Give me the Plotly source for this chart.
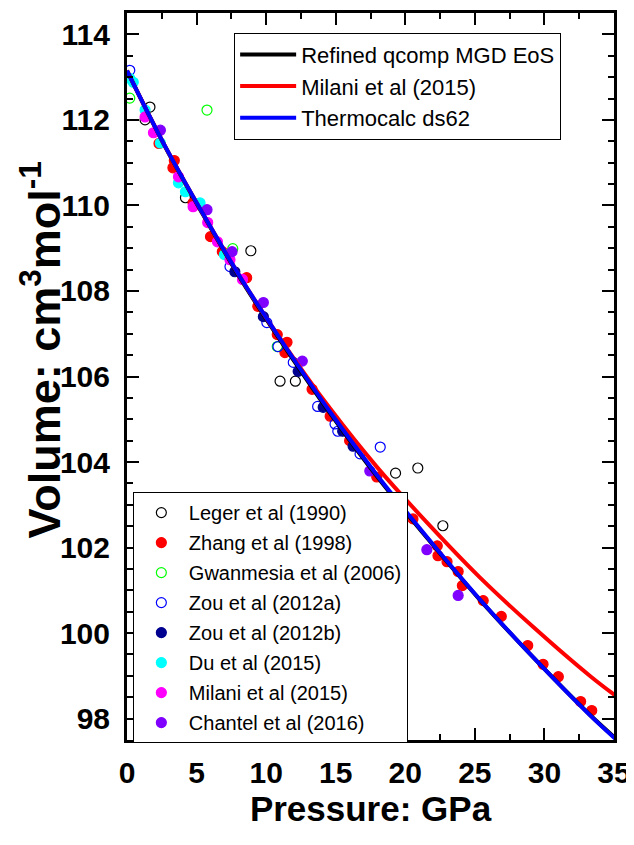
import plotly.graph_objects as go

# equation of state curves, pressure (GPa) vs volume (cm3/mol)
curve_p = [0, 2.6, 5.4, 8.3, 11.4, 14.6, 18.0, 21.6, 25.3, 29.2, 33.3, 35.5]
refined_v = [113.15, 111.46, 109.82, 108.21, 106.66, 105.14, 103.65, 102.21, 100.80, 99.43, 98.08, 97.43]
milani_v = [113.15, 111.47, 109.84, 108.24, 106.70, 105.25, 103.87, 102.57, 101.32, 100.14, 98.99, 98.44]
thermocalc_v = [113.15, 111.47, 109.84, 108.24, 106.69, 105.17, 103.68, 102.23, 100.81, 99.43, 98.07, 97.41]

# experimental data sets
leger_p = [1.3, 1.65, 4.2, 8.9, 11.0, 12.1, 19.3, 20.9, 22.7]
leger_v = [112.0, 112.3, 110.18, 108.94, 105.89, 105.89, 103.74, 103.86, 102.51]

zhang_p = [2.3, 3.4, 3.3, 4.75, 6.0, 6.85, 8.6, 9.4, 10.8, 11.5, 11.35, 13.3, 14.6, 16.0,
           17.95, 20.55, 22.3, 22.35, 23.0, 23.8, 24.1, 25.6, 26.9, 28.8, 29.9, 31.0, 32.6, 33.4]
zhang_v = [111.45, 111.05, 110.88, 110.06, 109.27, 108.92, 108.31, 107.64, 106.98, 106.8, 106.56, 105.7,
           105.07, 104.5, 103.65, 102.67, 102.04, 101.81, 101.67, 101.44, 101.11, 100.76, 100.39, 99.71,
           99.27, 98.98, 98.40, 98.19]

gwan_p = [0.2, 5.75, 7.6, 10.8]
gwan_v = [112.51, 112.23, 108.99, 106.7]

zou_a_p = [0.2, 7.4, 10.05, 10.85, 11.95, 13.7, 14.95, 15.15, 16.75, 18.2]
zou_a_v = [113.16, 108.57, 107.26, 106.7, 106.33, 105.3, 104.89, 104.72, 104.19, 104.35]

zou_b_p = [7.75, 9.8, 12.3, 14.1, 15.5, 16.25]
zou_b_v = [108.45, 107.4, 106.12, 105.28, 104.72, 104.37]

du_p = [0.2, 0.45, 1.3, 2.4, 3.7, 4.2, 5.25, 7.0]
du_v = [112.97, 112.88, 112.23, 111.46, 110.53, 110.32, 110.06, 108.85]

milani_pts_p = [1.3, 1.9, 3.7, 4.75, 5.8, 6.5, 7.4, 8.3]
milani_pts_v = [112.07, 111.7, 110.67, 109.97, 109.6, 109.15, 108.73, 108.27]

chantel_p = [2.4, 5.75, 7.55, 9.8, 12.6, 17.45, 21.55, 23.8]
chantel_v = [111.76, 109.9, 108.92, 107.73, 106.36, 103.79, 101.95, 100.88]


def data_trace(p, v, name, color, hollow=False):
    return go.Scatter(
        x=p,
        y=v,
        name=name,
        mode="markers",
        legend="legend2",
        legendgroup=name,
        marker=dict(
            symbol="circle-open" if hollow else "circle",
            size=10,
            color=color,
            line=dict(width=1.2, color=color),
        ),
    )


def eos_trace(v, name, color):
    return go.Scatter(
        x=curve_p,
        y=v,
        name=name,
        mode="lines",
        legend="legend",
        line=dict(color=color, width=4, shape="spline"),
    )


fig = go.Figure()

sets = [
    (leger_p, leger_v, "Leger et al (1990)", "#000000", True),
    (zhang_p, zhang_v, "Zhang et al (1998)", "#ff0000", False),
    (gwan_p, gwan_v, "Gwanmesia et al (2006)", "#00ff00", True),
    (zou_a_p, zou_a_v, "Zou et al (2012a)", "#0000ff", True),
    (zou_b_p, zou_b_v, "Zou et al (2012b)", "#000090", False),
    (du_p, du_v, "Du et al (2015)", "#00ffff", False),
    (milani_pts_p, milani_pts_v, "Milani et al (2015)", "#ff00ff", False),
    (chantel_p, chantel_v, "Chantel et al (2016)", "#8000ff", False),
]
for p, v, nm, c, h in sets:
    fig.add_trace(data_trace(p, v, nm, c, h))

fig.add_trace(eos_trace(refined_v, "Refined qcomp MGD EoS", "#000000"))
fig.add_trace(eos_trace(milani_v, "Milani et al (2015)", "#ff0000"))
fig.add_trace(eos_trace(thermocalc_v, "Thermocalc ds62", "#0000ff"))

axis_common = dict(
    automargin=False,
    ticks="inside",
    ticklen=12,
    tickwidth=2,
    tickcolor="black",
    showline=True,
    linewidth=3,
    linecolor="black",
    mirror="ticks",
    showgrid=False,
    zeroline=False,
    tickfont=dict(size=30, weight="bold", color="black"),
)

fig.update_xaxes(
    **axis_common,
    range=[0, 35],
    tick0=0,
    dtick=5,
    ticklabelstandoff=4,
    minor=dict(dtick=2.5, ticks="inside", ticklen=6, tickwidth=2, tickcolor="black", showgrid=False),
    title=dict(text="Pressure: GPa", font=dict(size=35, weight="bold", color="black"), standoff=4),
)
fig.update_yaxes(
    **axis_common,
    range=[97.5, 114.5],
    tick0=0,
    dtick=2,
    ticklabelstandoff=8,
    minor=dict(dtick=0.5, ticks="inside", ticklen=6, tickwidth=2, tickcolor="black", showgrid=False),
)

# y title sits a little above the plot centre in the original, so place it by hand
fig.add_annotation(
    text="<b>Volume: cm<sup>3</sup>mol<sup>-1</sup></b>",
    xref="paper",
    yref="paper",
    x=-0.177,
    y=0.537,
    xanchor="center",
    yanchor="middle",
    textangle=-90,
    showarrow=False,
    font=dict(size=45, color="black"),
)

# the page body adds an 8px offset, so the figure is 8px smaller than the window
fig.update_layout(
    width=626,
    height=837,
    margin=dict(l=119, r=20, t=5, b=105),
    paper_bgcolor="white",
    plot_bgcolor="white",
    font=dict(family="Liberation Sans, Arial, sans-serif", color="black"),
    showlegend=True,
    legend=dict(
        x=0.22,
        y=0.973,
        xanchor="left",
        yanchor="top",
        bgcolor="white",
        bordercolor="black",
        borderwidth=1,
        itemwidth=56,
        font=dict(size=22),
        tracegroupgap=0,
    ),
    legend2=dict(
        x=0.012,
        y=0.341,
        xanchor="left",
        yanchor="top",
        bgcolor="white",
        bordercolor="black",
        borderwidth=1,
        itemwidth=45,
        font=dict(size=20),
        tracegroupgap=1,
    ),
)

fig.write_html("out.html")
